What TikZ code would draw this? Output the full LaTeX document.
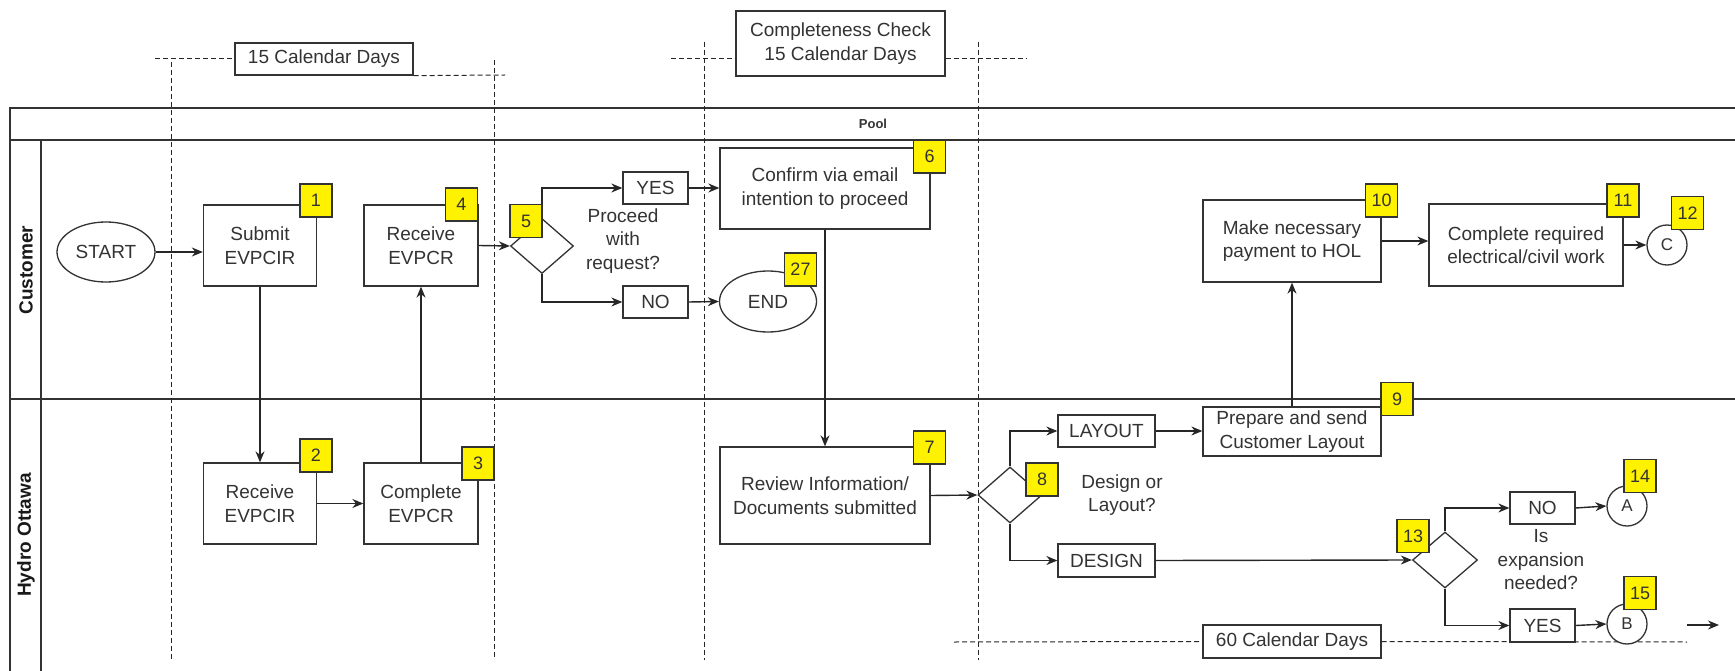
\documentclass[tikz,border=0pt]{standalone}
\usepackage{fontspec}
\setmainfont{Liberation Sans}
\usetikzlibrary{shapes.geometric,arrows.meta,calc}
\begin{document}
\begin{tikzpicture}[x=1pt,y=-1pt,
  every node/.style={font=\fontsize{19}{23.5}\selectfont, text=black!80},
  box/.style={draw=black!80, fill=white, line width=1.3pt, align=center, inner sep=0pt},
  term/.style={draw=black!80, fill=white, line width=1.3pt, ellipse, inner sep=0pt},
  conn/.style={draw=black!80, fill=white, line width=1.3pt, circle, inner sep=0pt, minimum size=40pt, font=\fontsize{17}{19}\selectfont},
  dec/.style={draw=black!80, fill=white, line width=1.3pt, diamond, inner sep=0pt},
  badge/.style={draw=black!80, fill=yellow, line width=1.2pt, minimum width=32pt, minimum height=33pt, inner sep=0pt, font=\fontsize{18}{20}\selectfont},
  flow/.style={draw=black!85, line width=1.4pt, -{Stealth[length=11pt,width=9pt]}},
  timeline/.style={draw=black!85, line width=1pt, dash pattern=on 5pt off 3pt},
  pool/.style={draw=black!80, line width=1.5pt},
  freetext/.style={align=center, inner sep=0pt}]
\useasboundingbox (0,0) rectangle (1735,671);

% pool and lanes
\draw[pool] (1735,108) -- (10,108) -- (10,671);
\draw[pool] (10,140) -- (1735,140);
\draw[pool] (10,399) -- (1735,399);
\draw[pool] (41,140) -- (41,671);
\node[font=\bfseries\fontsize{13}{15}\selectfont] (pooltitle) at (873,124) {Pool};
\node[rotate=90, font=\bfseries\fontsize{19}{22}\selectfont, text=black!90] (lanecust) at (26,270) {Customer};
\node[rotate=90, font=\bfseries\fontsize{19}{22}\selectfont, text=black!90] (lanehydro) at (26,535) {Hydro Ottawa};

% timeline markers
\coordinate (v1a) at (171,62);  \coordinate (v1b) at (171,660);
\coordinate (v2a) at (494,60);  \coordinate (v2b) at (494,660);
\coordinate (v3a) at (704,42);  \coordinate (v3b) at (704,660);
\coordinate (v4a) at (978,42);  \coordinate (v4b) at (978,660);
\draw[timeline] (v1a) -- (v1b);
\draw[timeline] (v2a) -- (v2b);
\draw[timeline] (v3a) -- (v3b);
\draw[timeline] (v4a) -- (v4b);

\node[box, minimum width=178pt, minimum height=32pt] (days15) at (324,59) {15 Calendar Days};
\coordinate (d15l) at (155,59);
\coordinate (d15r) at (505,75);
\draw[timeline] (d15l) -- (days15.west);
\draw[timeline] (days15.south east) -- (d15r);

\node[box, minimum width=209pt, minimum height=65pt] (check) at (840.5,43.5) {Completeness Check\\15 Calendar Days};
\coordinate (ccl) at (671,59);
\coordinate (ccr) at (1026,59);
\draw[timeline] (ccl) -- (ccl -| check.west);
\draw[timeline] (ccr -| check.east) -- (ccr);

\node[box, minimum width=178pt, minimum height=33pt] (days60) at (1292,641.5) {60 Calendar Days};
\coordinate (d60l) at (954,642);
\coordinate (d60r) at (1687,642);
\draw[timeline] (d60l) -- (days60.west);
\draw[timeline] (days60.east) -- (d60r);

% customer lane
\node[term, minimum width=98pt, minimum height=60pt] (start) at (106,252) {START};
\node[box, minimum width=113pt, minimum height=81pt] (submit) at (260,245.5) {Submit\\EVPCIR};
\node[box, minimum width=114pt, minimum height=81pt] (recvcr) at (421,245.5) {Receive\\EVPCR};
\node[dec, minimum width=63pt, minimum height=55pt] (d5) at (542,246) {};
\node[freetext] (q5) at (623,241) {Proceed\\with\\request?};
\node[box, minimum width=65pt, minimum height=32pt] (yes1) at (655.5,188) {YES};
\node[box, minimum width=65pt, minimum height=32pt] (no1) at (655.5,302) {NO};
\node[box, minimum width=210pt, minimum height=81pt] (confirm) at (825,188.5) {Confirm via email\\intention to proceed};
\node[term, minimum width=97pt, minimum height=61pt] (end) at (768,301.5) {END};
\node[box, minimum width=178pt, minimum height=82pt] (pay) at (1292,241) {Make necessary\\payment to HOL};
\node[box, minimum width=194pt, minimum height=82pt] (work) at (1526,245) {Complete required\\electrical/civil work};
\node[conn] (cC) at (1667,245) {C};

% hydro lane
\node[box, minimum width=113pt, minimum height=81pt] (recvcir) at (260,503.5) {Receive\\EVPCIR};
\node[box, minimum width=114pt, minimum height=81pt] (complete) at (421,503.5) {Complete\\EVPCR};
\node[box, minimum width=210pt, minimum height=97pt] (review) at (825,495.5) {Review Information/\\Documents submitted};
\node[dec, minimum width=64pt, minimum height=56pt] (d8) at (1010,495) {};
\node[freetext] (q8) at (1122,495) {Design or\\Layout?};
\node[box, minimum width=97pt, minimum height=32pt] (layout) at (1106.5,431) {LAYOUT};
\node[box, minimum width=97pt, minimum height=33pt] (design) at (1106.5,560.5) {DESIGN};
\node[box, minimum width=178pt, minimum height=49pt] (prep) at (1292,431.5) {Prepare and send\\Customer Layout};
\node[dec, minimum width=65pt, minimum height=56pt] (d13) at (1445,560) {};
\node[freetext] (q13) at (1541,560) {Is\\expansion\\needed?};
\node[box, minimum width=65pt, minimum height=32pt] (no2) at (1542.5,508) {NO};
\node[box, minimum width=65pt, minimum height=33pt] (yes2) at (1542.5,625.5) {YES};
\node[conn] (cA) at (1627,506) {A};
\node[conn] (cB) at (1627,624) {B};

% connectors
\draw[flow] (start.east) -- (start.east -| submit.west);
\draw[flow] (submit.south) -- (recvcir.north);
\draw[flow] (recvcir.east) -- (complete.west);
\draw[flow] (complete.north) -- (recvcr.south);
\draw[flow] (recvcr.east) -- (d5.west);
\draw[flow] (d5.north) |- (yes1.west);
\draw[flow] (d5.south) |- (no1.west);
\draw[flow] (yes1.east) -- (yes1.east -| confirm.west);
\draw[flow] (no1.east) -- (end.west);
\draw[flow] (confirm.south) -- (review.north);
\draw[flow] (review.east) -- (d8.west);
\draw[flow] (d8.north) |- (layout.west);
\draw[flow] (d8.south) |- (design.west);
\draw[flow] (layout.east) -- (layout.east -| prep.west);
\draw[flow] (prep.north) -- (pay.south);
\draw[flow] (pay.east) -- (pay.east -| work.west);
\draw[flow] (work.east) -- (cC.west);
\draw[flow] (design.east) -- (d13.west);
\draw[flow] (d13.north) |- (no2.west);
\draw[flow] (d13.south) |- (yes2.west);
\draw[flow] (no2.east) -- (cA.west);
\draw[flow] (yes2.east) -- (cB.west);
\coordinate (fa1) at (1687,625);
\coordinate (fa2) at (1719,625);
\draw[flow] (fa1) -- (fa2);

% step badges
\node[badge] (b1) at (316,200.5) {1};
\node[badge] (b2) at (316,455.5) {2};
\node[badge] (b3) at (478,463.5) {3};
\node[badge] (b4) at (461.5,204.5) {4};
\node[badge] (b5) at (526,221) {5};
\node[badge] (b6) at (929.5,156.5) {6};
\node[badge] (b7) at (929.5,447.5) {7};
\node[badge] (b8) at (1042,479.5) {8};
\node[badge] (b9) at (1397,399) {9};
\node[badge] (b10) at (1381.5,200.5) {10};
\node[badge] (b11) at (1623,200.5) {11};
\node[badge] (b12) at (1687.5,213) {12};
\node[badge] (b13) at (1413,536) {13};
\node[badge] (b14) at (1640,476) {14};
\node[badge] (b15) at (1640,593) {15};
\node[badge] (b27) at (800.5,269.5) {27};
\end{tikzpicture}
\end{document}
